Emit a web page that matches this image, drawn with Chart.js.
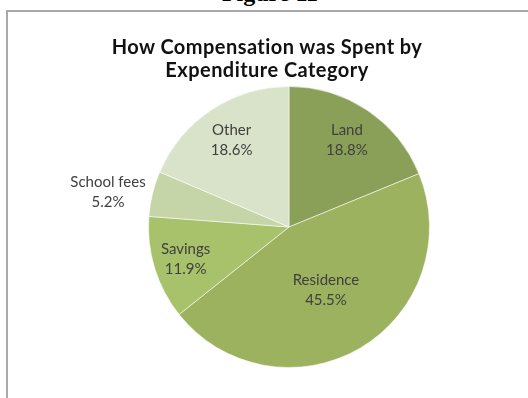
<!DOCTYPE html>
<html>
<head>
<meta charset="utf-8">
<script src="https://cdn.jsdelivr.net/npm/chart.js@4.4.1/dist/chart.umd.min.js"></script>
<style>
  html, body { margin: 0; padding: 0; background: #fff; }
  #wrap { position: relative; width: 528px; height: 398px; overflow: hidden; }
  #fig { position: absolute; left: 0; width: 540px; top: -19px; text-align: center;
         font: bold 24px "Liberation Serif", "Times New Roman", serif; color: #000; line-height: 24px; }
  #frameTop { position: absolute; left: 6px; top: 10px; width: 530px; height: 2px; background: #a9a9a9; }
  #frameLeft { position: absolute; left: 6px; top: 10px; width: 2px; height: 400px; background: #a9a9a9; }
  #title { position: absolute; left: 0; width: 534px; top: 35px; text-align: center;
           font: bold 20px Lato, "Open Sans", sans-serif; letter-spacing: 0.45px; line-height: 23px; color: #111; }
  canvas { position: absolute; left: 0; top: 0; }
</style>
</head>
<body>
<div id="wrap">
  <div id="fig">Figure 11</div>
  <div id="frameTop"></div>
  <div id="frameLeft"></div>
  <canvas id="c" width="528" height="398"></canvas>
  <div id="title">How Compensation was Spent by<br>Expenditure Category</div>
</div>
<script>
const categories = ["Land", "Residence", "Savings", "School fees", "Other"];
const shares = [18.8, 45.5, 11.9, 5.2, 18.6];
const sliceColors = ["#8a9f57", "#9cb25f", "#a7c26a", "#c6d5a8", "#d9e3c9"];
// label placement: fraction of radius; "outside" labels are right-aligned to their anchor
const labelRadius = [0.74, 0.52, 0.77, 1.05, 0.74];
const labelOutside = [false, false, false, true, false];

const labelPlugin = {
  id: 'sliceLabels',
  afterDatasetsDraw(chart) {
    const ctx = chart.ctx;
    const meta = chart.getDatasetMeta(0);
    ctx.save();
    ctx.font = '15px Lato, "Open Sans", sans-serif';
    ctx.fillStyle = '#404040';
    ctx.textBaseline = 'middle';
    meta.data.forEach((arc, i) => {
      const p = arc.getProps(['x','y','startAngle','endAngle','outerRadius'], true);
      const mid = (p.startAngle + p.endAngle) / 2;
      const r = p.outerRadius * labelRadius[i];
      let x = p.x + Math.cos(mid) * r;
      const y = p.y + Math.sin(mid) * r;
      const l1 = categories[i], l2 = shares[i].toFixed(1) + '%';
      if (labelOutside[i]) {
        const w = Math.max(ctx.measureText(l1).width, ctx.measureText(l2).width);
        x = Math.cos(mid) < 0 ? x - w / 2 : x + w / 2;
      }
      ctx.textAlign = 'center';
      ctx.fillText(l1, x, y - 10);
      ctx.fillText(l2, x, y + 10);
    });
    ctx.restore();
  }
};

new Chart(document.getElementById('c'), {
  type: 'pie',
  data: {
    labels: categories,
    datasets: [{
      data: shares,
      backgroundColor: sliceColors,
      borderColor: 'rgba(255,255,255,0.55)',
      borderWidth: 1
    }]
  },
  options: {
    responsive: false,
    animation: false,
    layout: { padding: { left: 148, right: 98, top: 86, bottom: 30 } },
    plugins: {
      legend: { display: false },
      tooltip: { enabled: false },
      title: { display: false }
    }
  },
  plugins: [labelPlugin]
});
</script>
</body>
</html>
